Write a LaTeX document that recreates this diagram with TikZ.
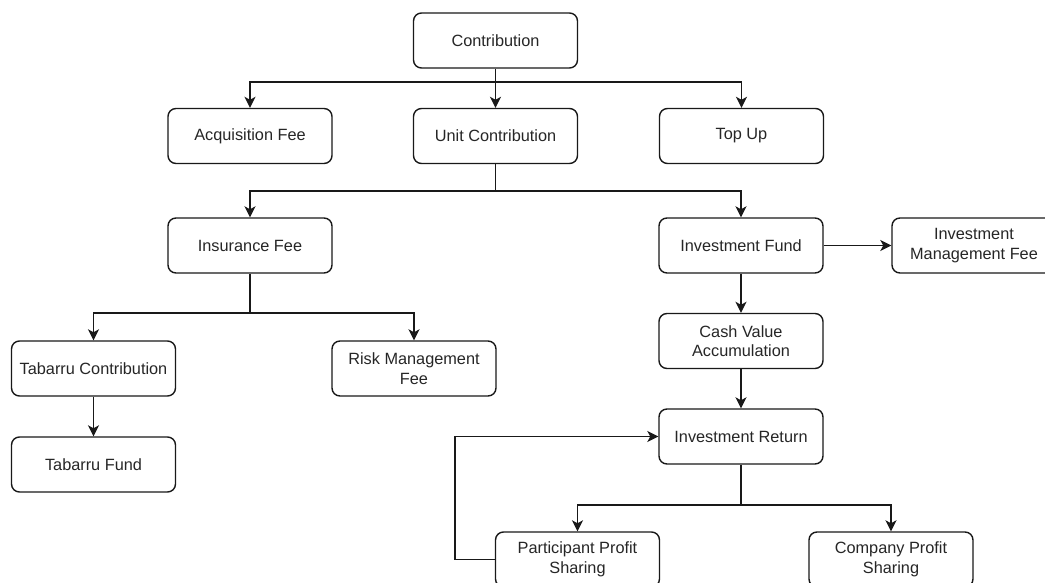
\documentclass[tikz,border=0pt]{standalone}
\usepackage{fontspec}
\setmainfont{Liberation Sans}
\usetikzlibrary{arrows.meta}
\begin{document}
\begin{tikzpicture}[x=1pt,y=-1pt,
  box/.style={draw=black!90, line width=1.4pt, rounded corners=8pt, fill=white,
    minimum width=164pt, minimum height=55pt, inner sep=2pt, align=center,
    text=black!85, font=\fontsize{16.3}{19.5}\selectfont},
  arr/.style={draw=black!90, line width=1.5pt, -{Stealth[length=11pt,width=11pt,inset=3pt]}},
  ln/.style={draw=black!90, line width=1.5pt}]
\useasboundingbox[fill=white] (0,0) rectangle (1045,583);
\node[box] (contrib) at (495.5,40.5) {Contribution};
\node[box] (acq) at (250,136) {Acquisition Fee};
\node[box] (unit) at (495.5,136) {Unit Contribution};
\node[box] (topup) at (741.5,136) {Top Up};
\node[box] (ins) at (250,245.5) {Insurance Fee};
\node[box] (invf) at (741,245.5) {Investment Fund};
\node[box] (imf) at (974,245.5) {Investment\\Management Fee};
\node[box] (tabc) at (93.5,368.5) {Tabarru Contribution};
\node[box] (risk) at (414,368.5) {Risk Management\\Fee};
\node[box] (tabf) at (93.5,464.5) {Tabarru Fund};
\node[box] (cash) at (741,341) {Cash Value\\Accumulation};
\node[box] (ir) at (741,436.5) {Investment Return};
\node[box] (part) at (577.5,559.5) {Participant Profit\\Sharing};
\node[box] (comp) at (891,559.5) {Company Profit\\Sharing};
% Contribution split
\coordinate (j1) at (495.5,82);
\draw[ln] (contrib.south) -- (j1);
\draw[arr] (j1) -| (acq.north);
\draw[arr] (j1) -| (topup.north);
\draw[arr] (j1) -- (unit.north);
% Unit split
\coordinate (j2) at (495.5,191);
\draw[ln] (unit.south) -- (j2);
\draw[arr] (j2) -| (ins.north);
\draw[arr] (j2) -| (invf.north);
% Insurance split
\coordinate (j3) at (250,313);
\draw[ln] (ins.south) -- (j3);
\draw[arr] (j3) -| (tabc.north);
\draw[arr] (j3) -| (risk.north);
\draw[arr] (tabc.south) -- (tabf.north);
% Investment
\draw[arr] (invf.east) -- (imf.west);
\draw[arr] (invf.south) -- (cash.north);
\draw[arr] (cash.south) -- (ir.north);
\coordinate (j4) at (741,505);
\draw[ln] (ir.south) -- (j4);
\draw[arr] (j4) -| (part.north);
\draw[arr] (j4) -| (comp.north);
\coordinate (lp) at (455,559.5);
\draw[arr] (part.west) -- (lp) |- (ir.west);
\end{tikzpicture}
\end{document}
